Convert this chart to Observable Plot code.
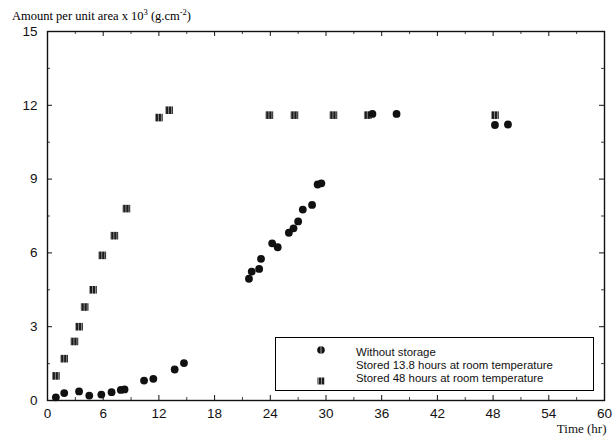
<!DOCTYPE html>
<html>
<head>
<meta charset="utf-8">
<script src="https://cdn.jsdelivr.net/npm/d3@7"></script>
<script src="https://cdn.jsdelivr.net/npm/@observablehq/plot@0.6"></script>
<style>
  html, body { margin: 0; padding: 0; background: #fff; }
  #wrap { position: relative; width: 615px; height: 444px; }
  #title { height: 24px; font-family: "Liberation Serif", "Times New Roman", serif; font-size: 12.5px; padding-left: 12px; line-height: 32px; white-space: nowrap; }
  #title sup { font-size: 8.5px; line-height: 0; }
  #legend { position: absolute; left: 275px; top: 337px; width: 319px; height: 54px; border: 1px solid #000; box-sizing: border-box; font-family: "Liberation Sans", Arial, sans-serif; font-size: 11.4px; color: #111; }
  #legend .row { position: absolute; left: 80px; white-space: nowrap; }
  #legend svg { position: absolute; }
</style>
</head>
<body>
<div id="wrap">
  <div id="title">Amount per unit area x 10<sup>3</sup> (g.cm<sup>-2</sup>)</div>
  <div id="chart"></div>
  <div id="legend"></div>
</div>
<script>
// Series: stored 48 hours at room temperature (squares)
const stored48Time   = [0.9, 1.8, 2.9, 3.4, 4.0, 4.9, 5.9, 7.2, 8.5, 12.0, 13.1, 23.9, 26.6, 30.8, 34.5, 48.2];
const stored48Amount = [1.0, 1.7, 2.4, 3.0, 3.8, 4.5, 5.9, 6.7, 7.8, 11.5, 11.8, 11.6, 11.6, 11.6, 11.6, 11.6];
// Series: without storage (circles)
const noStorageTime   = [0.9, 1.8, 3.4, 4.5, 5.8, 6.9, 7.9, 8.3, 10.4, 11.4, 13.7, 14.7, 21.7, 22.0, 22.8, 23.0, 24.2, 24.8, 26.0, 26.5, 27.0, 27.5, 28.5, 29.1, 29.5, 35.0, 37.6, 48.2, 49.6];
const noStorageAmount = [0.13, 0.30, 0.37, 0.20, 0.24, 0.34, 0.43, 0.45, 0.81, 0.88, 1.26, 1.52, 4.95, 5.24, 5.35, 5.76, 6.39, 6.23, 6.82, 7.00, 7.28, 7.76, 7.95, 8.78, 8.83, 11.65, 11.65, 11.20, 11.22];
// Axes
const xTicks = [0, 6, 12, 18, 24, 30, 36, 42, 48, 54, 60];
const xMinorTicks = [3, 9, 15, 21, 27, 33, 39, 45, 51, 57];
const yTicks = [0, 3, 6, 9, 12, 15];
const yMinorTicks = [1.5, 4.5, 7.5, 10.5, 13.5];
const legendLabels = ["Without storage", "Stored 13.8 hours at room temperature", "Stored 48 hours at room temperature"];
const xLabel = "Time (hr)";

const squares = stored48Time.map((t, i) => ({time: t, amount: stored48Amount[i]}));
const circles = noStorageTime.map((t, i) => ({time: t, amount: noStorageAmount[i]}));

const W = 615, H = 420;
const mL = 47, mR = 11, mT = 7, mB = 44;
const fw = W - mL - mR, fh = H - mT - mB;
const font = "Liberation Sans, Arial, sans-serif";

const plot = Plot.plot({
  width: W, height: H,
  marginLeft: mL, marginRight: mR, marginTop: mT, marginBottom: mB,
  style: {fontFamily: font, background: "#fff", color: "#111"},
  x: {domain: [0, 60]},
  y: {domain: [0, 15]},
  marks: [
    // tick labels
    Plot.axisX({ticks: xTicks, tickSize: 0, tickPadding: 8, fontSize: 13.5, label: null}),
    Plot.axisY({ticks: yTicks, tickSize: 0, tickPadding: 10, fontSize: 13.5, label: null}),
    // inward major/minor ticks on all four sides
    Plot.tickX(xTicks, {x: d => d, insetTop: fh - 5, stroke: "#111", strokeWidth: 1}),
    Plot.tickX(xTicks, {x: d => d, insetBottom: fh - 5, stroke: "#111", strokeWidth: 1}),
    Plot.tickX(xMinorTicks, {x: d => d, insetTop: fh - 3, stroke: "#111", strokeWidth: 0.8}),
    Plot.tickX(xMinorTicks, {x: d => d, insetBottom: fh - 3, stroke: "#111", strokeWidth: 0.8}),
    Plot.tickY(yTicks, {y: d => d, insetRight: fw - 5, stroke: "#111", strokeWidth: 1}),
    Plot.tickY(yTicks, {y: d => d, insetLeft: fw - 5, stroke: "#111", strokeWidth: 1}),
    Plot.tickY(yMinorTicks, {y: d => d, insetRight: fw - 3, stroke: "#111", strokeWidth: 0.8}),
    Plot.tickY(yMinorTicks, {y: d => d, insetLeft: fw - 3, stroke: "#111", strokeWidth: 0.8}),
    Plot.frame({stroke: "#111", strokeWidth: 1.4}),
    // data
    Plot.dot(squares, {x: "time", y: "amount", symbol: "square", r: 4.3, fill: "url(#sqpat)", stroke: "none"}),
    Plot.dot(circles, {x: "time", y: "amount", symbol: "circle", r: 3.9, fill: "#111", stroke: "none"}),
    // x label
    Plot.text([xLabel], {frameAnchor: "bottom-right", dx: 2, dy: 32, fontFamily: "Liberation Serif, Times New Roman, serif", fontSize: 13, textAnchor: "end", fill: "#111"})
  ]
});

// pattern for the scanned-looking square markers
const defs = d3.select(plot).insert("defs", ":first-child");
const sp = defs.append("pattern").attr("id", "sqpat").attr("patternUnits", "userSpaceOnUse").attr("width", 3).attr("height", 3);
sp.append("rect").attr("width", 3).attr("height", 3).attr("fill", "#1c1c1c");
sp.append("rect").attr("x", 2).attr("width", 1).attr("height", 3).attr("fill", "#8a8a8a");

document.getElementById("chart").appendChild(plot);

// legend
const leg = document.getElementById("legend");
const rowsY = [8, 21, 34];
legendLabels.forEach((lab, i) => {
  const d = document.createElement("div");
  d.className = "row";
  d.style.top = rowsY[i] + "px";
  d.textContent = lab;
  leg.appendChild(d);
});
const ns = "http://www.w3.org/2000/svg";
function sym(kind, top) {
  const s = document.createElementNS(ns, "svg");
  s.setAttribute("width", 10); s.setAttribute("height", 10);
  s.style.left = "40px"; s.style.top = top + "px";
  if (kind === "circle") {
    const c = document.createElementNS(ns, "circle");
    c.setAttribute("cx", 5); c.setAttribute("cy", 5); c.setAttribute("r", 3.8); c.setAttribute("fill", "#111");
    s.appendChild(c);
    const l = document.createElementNS(ns, "line");
    l.setAttribute("x1", 5); l.setAttribute("x2", 5); l.setAttribute("y1", 1); l.setAttribute("y2", 9);
    l.setAttribute("stroke", "#ccc"); l.setAttribute("stroke-width", 0.8);
    s.appendChild(l);
  } else {
    const r = document.createElementNS(ns, "rect");
    r.setAttribute("x", 1.5); r.setAttribute("y", 1.5); r.setAttribute("width", 7); r.setAttribute("height", 7);
    r.setAttribute("fill", "url(#sqpat)");
    s.appendChild(r);
  }
  leg.appendChild(s);
}
sym("circle", 7);
sym("square", 38);
</script>
</body>
</html>
